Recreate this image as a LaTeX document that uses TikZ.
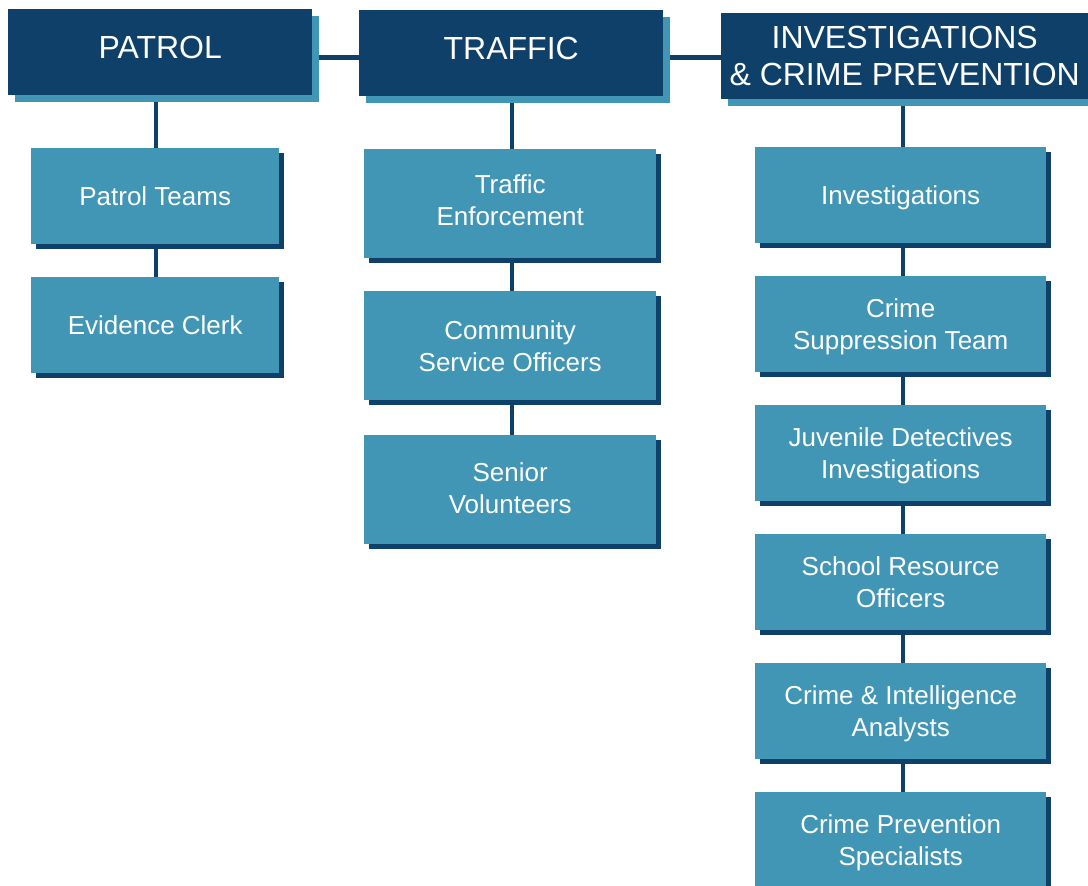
\documentclass[tikz,border=0pt]{standalone}
\usepackage{fontspec}
\setmainfont{Liberation Sans}
\usetikzlibrary{shadows,backgrounds}
\definecolor{orgnavy}{HTML}{0E406A}
\definecolor{orgteal}{HTML}{4196B5}
\begin{document}
\begin{tikzpicture}[x=1pt,y=-1pt,
  head/.style={anchor=north west, fill=orgnavy, text=white, inner sep=0pt,
    minimum height=86pt, align=center, font=\fontsize{32}{37}\selectfont,
    general shadow={fill=orgteal, shadow xshift=7pt, shadow yshift=-7pt}},
  unit/.style={anchor=north west, fill=orgteal, text=white, inner sep=0pt,
    align=center, text depth=0pt, font=\fontsize{26}{32}\selectfont,
    general shadow={fill=orgnavy, shadow xshift=4.5pt, shadow yshift=-4.5pt}},
  pcol/.style={unit, minimum width=248pt, minimum height=96pt},
  tcol/.style={unit, minimum width=292pt, minimum height=109pt},
  icol/.style={unit, minimum width=291pt, minimum height=96pt},
  link/.style={draw=orgnavy, line width=4.5pt}]
\useasboundingbox (0,0) rectangle (1088,886);
\clip (0,0) rectangle (1088,886);

% division headers
\node[head, minimum width=304pt, text depth=10pt] (patrol) at (8,9) {PATROL};
\node[head, minimum width=304pt, text depth=10pt] (traffic) at (359,10) {TRAFFIC};
\node[head, minimum width=367pt] (invest) at (721,13) {INVESTIGATIONS\\\& CRIME PREVENTION};

% patrol units
\node[pcol] (pteams) at (31,148) {Patrol Teams};
\node[pcol] (eclerk) at (31,277) {Evidence Clerk};

% traffic units
\node[tcol, text depth=8pt] (tenf) at (364,149) {Traffic\\Enforcement};
\node[tcol] (cso)  at (364,291) {Community\\Service Officers};
\node[tcol, text depth=4pt] (svol) at (364,435) {Senior\\Volunteers};

% investigations units
\node[icol] (inv)   at (755,147) {Investigations};
\node[icol] (cst)   at (755,276) {Crime\\Suppression Team};
\node[icol] (juv)   at (755,405) {Juvenile Detectives\\Investigations};
\node[icol] (sro)   at (755,534) {School Resource\\Officers};
\node[icol] (cia)   at (755,663) {Crime \& Intelligence\\Analysts};
\node[icol] (cps)   at (755,792) {Crime Prevention\\Specialists};

% connectors, kept behind the boxes
\begin{scope}[on background layer]
  \coordinate (hbar) at (0,57.5);
  \path ([xshift=1pt]pteams.center) coordinate (pline);
  \path ([xshift=2pt]tenf.center) coordinate (tline);
  \path ([xshift=2.5pt]inv.center) coordinate (iline);
  \draw[link] (patrol.center |- hbar) -- (invest.center |- hbar);
  \draw[link] (pline |- patrol.center) -- (pline |- eclerk.center);
  \draw[link] (tline |- traffic.center) -- (tline |- svol.center);
  \draw[link] (iline |- invest.center) -- (iline |- cps.center);
\end{scope}
\end{tikzpicture}
\end{document}
